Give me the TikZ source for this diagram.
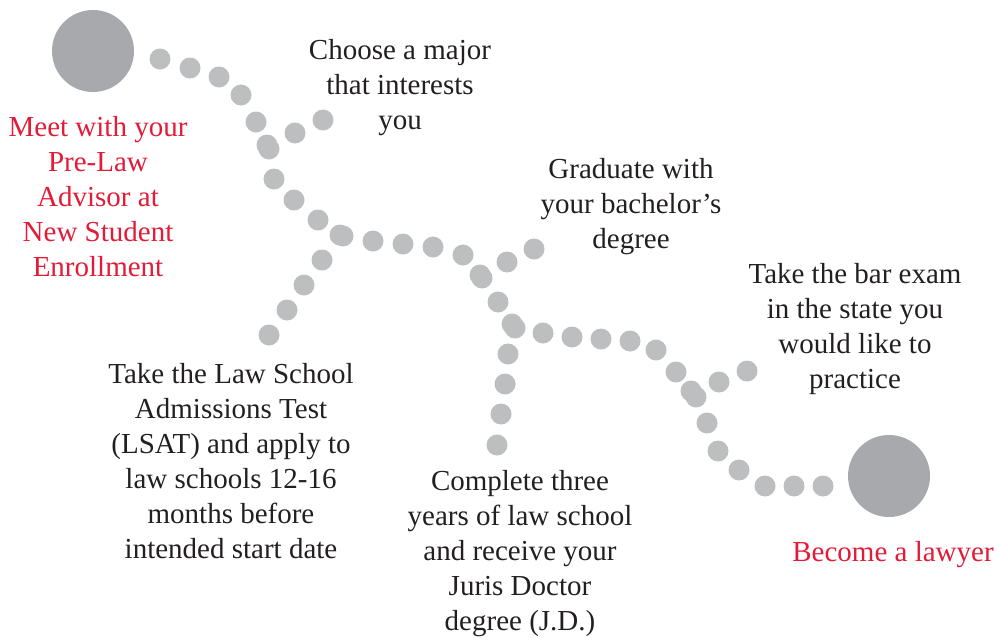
\documentclass[tikz,border=0pt]{standalone}
\usepackage{xcolor}
\usepackage{fontspec}
\setmainfont{Liberation Serif}
\definecolor{dotgrey}{HTML}{BCBEC0}
\definecolor{biggrey}{HTML}{A7A9AC}
\definecolor{lawred}{HTML}{E31B37}
\definecolor{inkblack}{HTML}{231F20}
\tikzset{
  dot/.style={circle,fill=dotgrey,inner sep=0pt,minimum size=10.5pt},
  bigdot/.style={circle,fill=biggrey,inner sep=0pt,minimum size=41pt},
  steptext/.style={align=center,text=inkblack,inner sep=0pt,
    font=\fontsize{14.5}{17.5}\selectfont},
  goaltext/.style={steptext,text=lawred}
}
\begin{document}
\begin{tikzpicture}[x=0.5pt,y=-0.5pt]

  % Frame of the picture
  \useasboundingbox (0,0) rectangle (994,637);

  % Start and finish
  \node[bigdot] (start)  at (93,51)  {};
  \node[bigdot] (finish) at (889,476) {};

  % Main dotted road
  \foreach \x/\y [count=\i] in {160/59,190/68,219/77,241/95,256/122,
      267/145,269/149,274/179,294/200,318/220,340/235,343/236,
      373/241,403/244,433/247,463/255,480/275,482/278,498/302,
      512/324,515/328,543/333,572/337,601/339,630/341,656/350,
      676/372,691/391,696/397,707/423,718/451,739/470,765/486,
      794/486,823/486}
    \node[dot] (m\i) at (\x,\y) {};

  % Side roads
  \foreach \x/\y [count=\i] in {295/133,323/120}
    \node[dot] (a\i) at (\x,\y) {};
  \foreach \x/\y [count=\i] in {322/260,304/285,287/310,269/335}
    \node[dot] (b\i) at (\x,\y) {};
  \foreach \x/\y [count=\i] in {507/262,534/249}
    \node[dot] (c\i) at (\x,\y) {};
  \foreach \x/\y [count=\i] in {508/354,505/384,501/414,497/445}
    \node[dot] (d\i) at (\x,\y) {};
  \foreach \x/\y [count=\i] in {719/382,747/371}
    \node[dot] (e\i) at (\x,\y) {};

  % Labels
  \node[goaltext] (advisor) at (98,197)
    {Meet with your\\Pre-Law\\Advisor at\\New Student\\Enrollment};
  \node[steptext] (major) at (400,88)
    {Choose a major\\that interests\\you};
  \node[steptext] (graduate) at (631,207)
    {Graduate with\\your bachelor's\\degree};
  \node[steptext] (bar) at (855,329)
    {Take the bar exam\\in the state you\\would like to\\practice};
  \node[steptext] (lsat) at (231,461)
    {Take the Law School\\Admissions Test\\(LSAT) and apply to\\law schools 12-16\\months before\\intended start date};
  \node[steptext] (jd) at (520,554)
    {Complete three\\years of law school\\and receive your\\Juris Doctor\\degree (J.D.)};
  \node[goaltext] (lawyer) at (893,555) {Become a lawyer};

\end{tikzpicture}
\end{document}
